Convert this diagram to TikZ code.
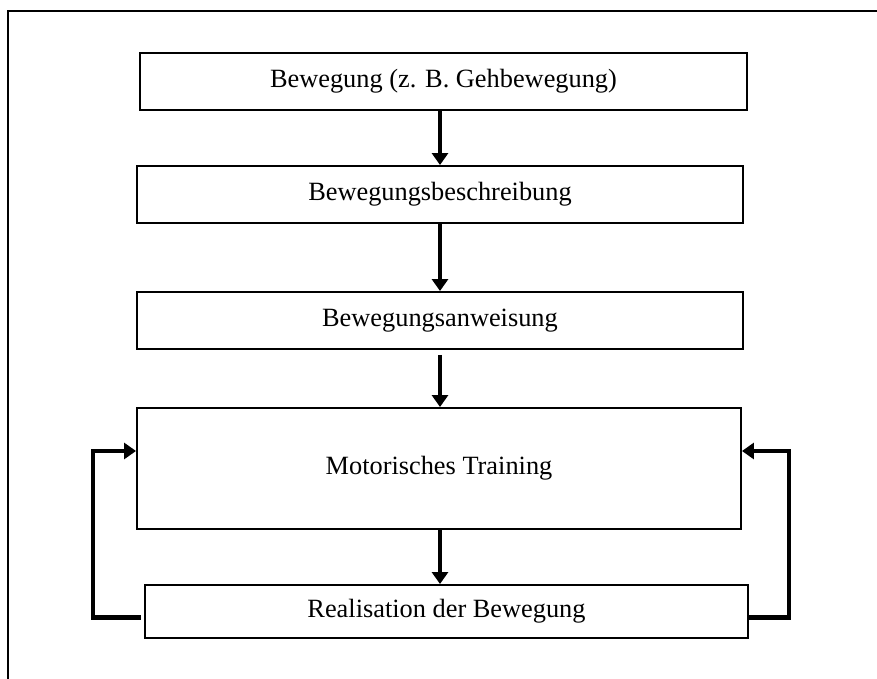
\documentclass[tikz,border=0pt]{standalone}
\usepackage{fontspec}
\setmainfont{Liberation Serif}
\usetikzlibrary{arrows.meta,positioning,calc}

\tikzset{
  stage/.style={draw=black, line width=1.1pt, fill=white, inner sep=0pt,
    font=\fontsize{15}{18}\selectfont},
  flow/.style={line width=2.8pt, -{Triangle[length=0.24cm, width=0.32cm]}},
  loopline/.style={line width=2.8pt, line cap=rect, -{Triangle[length=0.24cm, width=0.32cm]}}
}

\begin{document}
\begin{tikzpicture}[x=0.02cm, y=-0.02cm]
  \useasboundingbox (0,0) rectangle (877,679);
  % open frame (top and left)
  \draw[line width=1.7pt] (877,11) -- (8,11) -- (8,679);
  % stages
  \node[stage, minimum width=607*0.02cm, minimum height=57*0.02cm] (move) at (443.5,81.5) {Bewegung (z. B. Gehbewegung)};
  \node[stage, minimum width=606*0.02cm, minimum height=57*0.02cm] (descr) at (440,194.5) {Bewegungsbeschreibung};
  \node[stage, minimum width=606*0.02cm, minimum height=57*0.02cm] (instr) at (440,320.5) {Bewegungsanweisung};
  \node[stage, minimum width=604*0.02cm, minimum height=121*0.02cm] (train) at (439,468.5) {Motorisches Training};
  \node[stage, minimum width=603*0.02cm, minimum height=53*0.02cm] (real) at (446.5,611.5) {Realisation der Bewegung};
  % downward arrows
  \draw[flow] (move.south -| descr.north) -- (descr.north);
  \draw[flow] (descr.south) -- (instr.north);
  \draw[flow, shorten <=0.1cm] (instr.south) -- (instr.south |- train.north);
  \draw[flow] (train.south -| instr.south) -- (real.north -| instr.south);
  % feedback loops
  \coordinate (loopL) at (93,451);
  \coordinate (loopR) at (789,451);
  \draw[loopline] ($(real.west)+(-5,6)$) -| (loopL) -- (loopL -| train.west);
  \draw[loopline] ($(real.east)+(0,6)$) -| (loopR) -- (loopR -| train.east);
\end{tikzpicture}
\end{document}
